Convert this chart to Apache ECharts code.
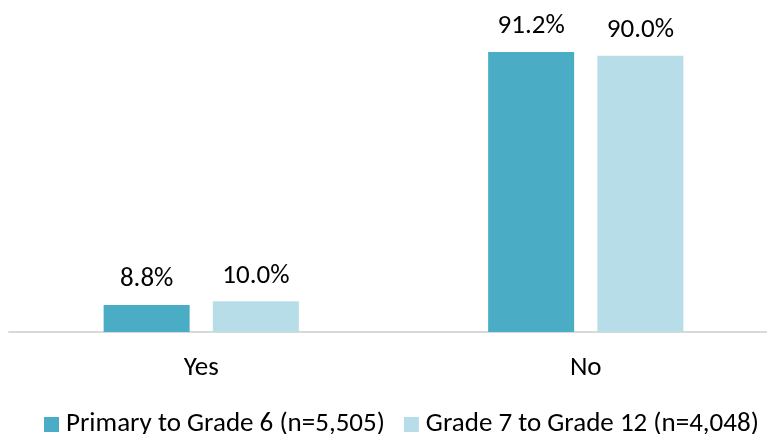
<!DOCTYPE html>
<html>
<head>
<meta charset="utf-8">
<script src="https://cdn.jsdelivr.net/npm/echarts@6/dist/echarts.min.js"></script>
<style>
  html, body { margin: 0; padding: 0; background: #ffffff; }
  #chart { width: 767px; height: 434px; }
</style>
</head>
<body>
<div id="chart"></div>
<script>
// Share of respondents answering Yes / No, by grade group (percent)
const categories = ['Yes', 'No'];
const seriesNames = ['Primary to Grade 6 (n=5,505)', 'Grade 7 to Grade 12 (n=4,048)'];
const primaryValues = [8.8, 91.2];
const secondaryValues = [10.0, 90.0];

const FONT = 'Carlito, Lato, sans-serif';
const colors = ['#4BACC6', '#B7DEE8'];

const chart = echarts.init(document.getElementById('chart'), null, { renderer: 'canvas' });

const labelStyle = {
  show: true,
  position: 'top',
  distance: 12,
  fontFamily: FONT,
  fontSize: 27,
  color: '#000000',
  formatter: p => p.value.toFixed(1) + '%'
};

chart.setOption({
  animation: false,
  color: colors,
  grid: { left: 9, width: 769, top: 25, bottom: 102, containLabel: false, outerBoundsMode: 'none' },
  legend: {
    top: 411,
    left: 44,
    padding: 0,
    icon: 'rect',
    itemWidth: 15,
    itemHeight: 15,
    itemGap: 19,
    textStyle: { fontFamily: FONT, fontSize: 27, lineHeight: 22, color: '#000000', padding: [0, 0, 0, 2] },
    data: seriesNames
  },
  xAxis: {
    type: 'category',
    data: categories,
    axisLine: { lineStyle: { color: '#D9D9D9', width: 2 } },
    axisTick: { show: false },
    axisLabel: { margin: 23, fontFamily: FONT, fontSize: 27, color: '#000000' }
  },
  yAxis: {
    type: 'value',
    min: 0,
    max: 100,
    show: false,
    splitLine: { show: false }
  },
  series: [
    {
      name: seriesNames[0],
      type: 'bar',
      data: primaryValues,
      barWidth: 86,
      barGap: '27%',
      label: labelStyle
    },
    {
      name: seriesNames[1],
      type: 'bar',
      data: secondaryValues,
      barWidth: 86,
      barGap: '27%',
      label: labelStyle
    }
  ]
});
</script>
</body>
</html>
